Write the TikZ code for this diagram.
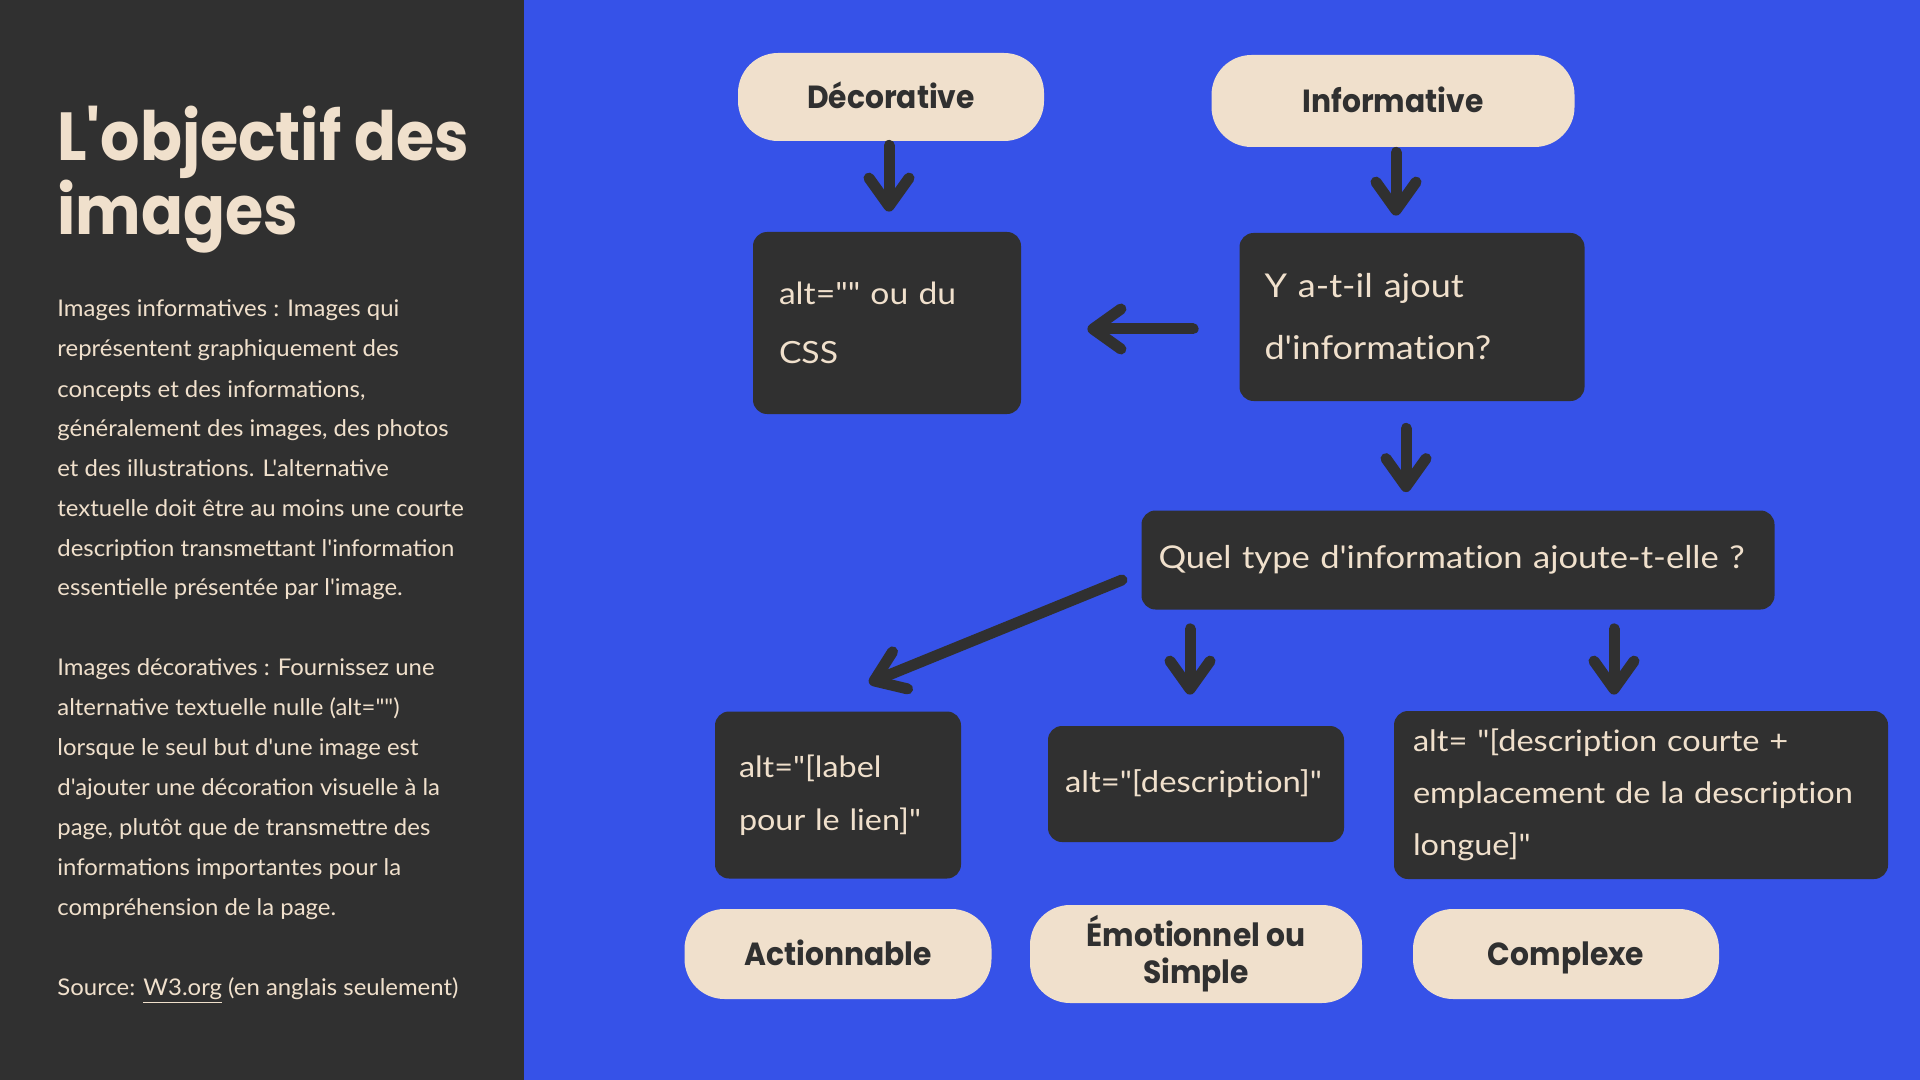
\documentclass[tikz,border=0pt]{standalone}
\usepackage{fontspec}
\usetikzlibrary{arrows.meta}
\newfontfamily\bodyf[FakeStretch=1.04]{Lato}
\newfontfamily\boxf[FakeStretch=1.1, Ligatures=NoCommon]{Lato}
\newfontfamily\headf[FakeStretch=0.93]{Poppins}
\newfontfamily\titlef[FakeStretch=0.91]{Poppins}
\definecolor{bgdark}{RGB}{48,48,48}
\definecolor{bgblue}{RGB}{54,82,232}
\definecolor{cream}{RGB}{240,224,204}
\tikzset{
  pill/.style={fill=cream, text=bgdark, rounded corners=20pt, align=center,
    font=\headf\bfseries\fontsize{16}{18.5}\selectfont, inner sep=0pt},
  onepill/.style={pill, text height=11.6pt, text depth=0pt},
  dbox/.style={fill=bgdark, text=cream, rounded corners=7pt, align=left,
    inner ysep=0pt},
  body/.style={text=cream, inner sep=0pt, anchor=base west,
    font=\bodyf\fontsize{11.5}{13}\selectfont},
  ttl/.style={text=cream, inner sep=0pt, anchor=base west,
    font=\titlef\bfseries\fontsize{34}{40}\selectfont},
  arr/.style={draw=bgdark, line width=5.5pt, line cap=round,
    -{Straight Barb[round, length=14pt, width=20pt]}}
}
\begin{document}
\begin{tikzpicture}[x=0.5pt, y=-0.5pt]
\useasboundingbox (0,0) rectangle (1920,1080);
\fill[bgdark] (0,0) rectangle (524,1080);
\fill[bgblue] (524,0) rectangle (1920,1080);

% left panel
\node[ttl] (t1) at (57,161) {L'objectif des};
\node[ttl] (t2) at (57,235) {images};

\node[body] (b1) at (57,317) {Images informatives : Images qui};
\node[body] (b2) at (57,357) {représentent graphiquement des};
\node[body] (b3) at (57,397) {concepts et des informations,};
\node[body] (b4) at (57,436) {généralement des images, des photos};
\node[body] (b5) at (57,476) {et des illustrations. L'alternative};
\node[body] (b6) at (57,516) {textuelle doit être au moins une courte};
\node[body] (b7) at (57,556) {description transmettant l'information};
\node[body] (b8) at (57,595) {essentielle présentée par l'image.};
\node[body] (c1) at (57,675) {Images décoratives : Fournissez une};
\node[body] (c2) at (57,715) {alternative textuelle nulle (alt="")};
\node[body] (c3) at (57,755) {lorsque le seul but d'une image est};
\node[body] (c4) at (57,795) {d'ajouter une décoration visuelle à la};
\node[body] (c5) at (57,835) {page, plutôt que de transmettre des};
\node[body] (c6) at (57,875) {informations importantes pour la};
\node[body] (c7) at (57,915) {compréhension de la page.};
\node[body] (src) at (57,995) {Source: \underline{W3.org} (en anglais seulement)};

% pills
\node[onepill, minimum width=153pt, minimum height=44pt] (dec) at (891,97) {Décorative};
\node[onepill, minimum width=181.5pt, minimum height=46pt] (inf) at (1393,101) {Informative};
\node[onepill, minimum width=153.5pt, minimum height=45pt] (pact) at (838,954) {Actionnable};
\node[pill, minimum width=166pt, minimum height=49pt] (pemo) at (1196,954) {Émotionnel ou\\Simple};
\node[onepill, minimum width=153pt, minimum height=45pt] (pcpx) at (1566,954) {Complexe};

% dark boxes
\node[dbox, minimum height=91pt, inner xsep=13pt, text width=108pt,
  font=\boxf\fontsize{15.3}{29.5}\selectfont] (alt) at (887,323) {\mbox{alt="" ou du}\\\mbox{CSS}};
\node[dbox, minimum height=84pt, inner xsep=12.5pt, text width=147.5pt,
  font=\boxf\fontsize{16.4}{31}\selectfont] (ybox) at (1412,317) {\mbox{Y a-t-il ajout}\\\mbox{d'information?}};
\node[dbox, minimum height=49.5pt, inner xsep=8.5pt, text width=299.5pt,
  font=\boxf\fontsize{15.7}{18}\selectfont] (quel) at (1458,560) {\mbox{Quel type d'information ajoute-t-elle ?}};
\node[dbox, minimum height=83.5pt, inner xsep=12pt, text width=99pt,
  font=\boxf\fontsize{14.7}{26.5}\selectfont] (act) at (838,795) {\mbox{alt="[label}\\\mbox{pour le lien]"}};
\node[dbox, minimum height=58pt, inner xsep=8.5pt, text width=131pt,
  font=\boxf\fontsize{14.9}{18}\selectfont] (desc) at (1196,784) {\mbox{alt="[description]"}};
\node[dbox, minimum height=84pt, inner xsep=9.5pt, text width=228pt,
  font=\boxf\fontsize{14.8}{26}\selectfont] (cpx) at (1641,795) {\mbox{alt= "[description courte +}\\\mbox{emplacement de la description}\\\mbox{longue]"}};

% arrows
\draw[arr, shorten <=2pt, shorten >=10pt] ([xshift=-1pt]dec.south) -- ([xshift=-1pt]dec.south |- alt.north);
\draw[arr, shorten <=2.5pt, shorten >=8.5pt] ([xshift=1.5pt]inf.south) -- ([xshift=1.5pt]inf.south |- ybox.north);
\draw[arr, shorten <=23pt, shorten >=33pt] ([yshift=-6pt]ybox.west) -- ([yshift=-6pt]ybox.west -| alt.east);
\draw[arr, shorten <=13.5pt, shorten >=9pt] ([xshift=-3pt]ybox.south) -- ([xshift=-3pt]ybox.south |- quel.north);
\coordinate (d1) at (1122,580);
\coordinate (d2) at (869,683);
\draw[arr] (d1) -- (d2);
\draw[arr, shorten <=9.5pt, shorten >=15.5pt] ([xshift=-3pt]quel.south -| desc.north) -- ([xshift=-3pt]desc.north);
\draw[arr, shorten <=9.5pt, shorten >=8pt] ([xshift=-13.5pt]quel.south -| cpx.north) -- ([xshift=-13.5pt]cpx.north);
\end{tikzpicture}
\end{document}
